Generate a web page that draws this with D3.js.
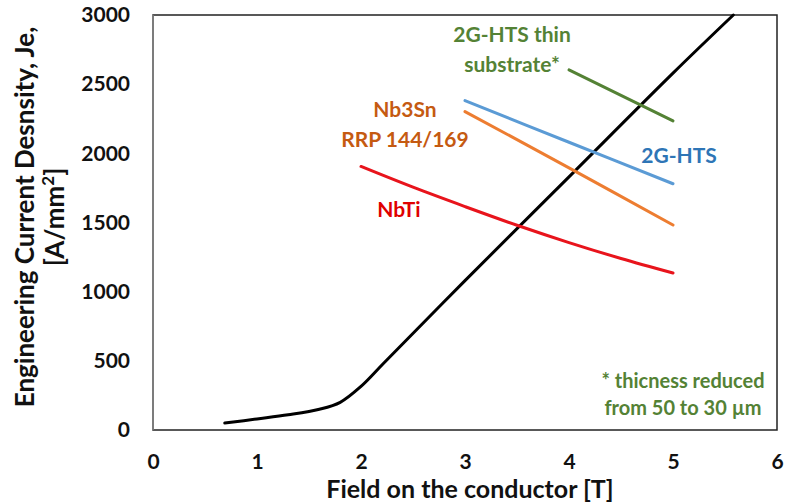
<!DOCTYPE html>
<html>
<head>
<meta charset="utf-8">
<script src="https://cdn.jsdelivr.net/npm/d3@7"></script>
<style>
body { margin: 0; background: #fff; }
text { font-family: Lato, "Open Sans", sans-serif; font-weight: bold; }
</style>
</head>
<body>
<svg width="786" height="503"></svg>
<script>
// values: field [T] and Je [A/mm2]
var blackField = [0.69, 1.0, 1.3, 1.6, 1.8, 2.0, 2.22, 3.0, 4.0, 5.0, 5.58];
var blackJe    = [50, 80, 110, 150, 200, 315, 484, 1080, 1830, 2580, 3000];
var nbtiField  = [2.0, 2.5, 3.0, 3.5, 4.0, 4.5, 5.0];
var nbtiJe     = [1905, 1755, 1615, 1480, 1355, 1240, 1135];
var nb3snField = [3, 4, 5];
var nb3snJe    = [2302, 1895, 1482];
var htsField   = [3, 4, 5];
var htsJe      = [2381, 2080, 1780];
var thinField  = [4, 5];
var thinJe     = [2603, 2234];
var xTicks = [0, 1, 2, 3, 4, 5, 6];
var yTicks = [0, 500, 1000, 1500, 2000, 2500, 3000];

var svg = d3.select("svg");
var plotL = 153, plotR = 777, plotT = 15, plotB = 430;

var x = d3.scaleLinear().domain([0, 6]).range([plotL, plotR]);
var y = d3.scaleLinear().domain([0, 3000]).range([plotB, plotT]);

// frame
svg.append("rect")
  .attr("x", plotL).attr("y", plotT)
  .attr("width", plotR - plotL).attr("height", plotB - plotT)
  .attr("fill", "none").attr("stroke", "#222").attr("stroke-width", 1.5);
svg.append("line")
  .attr("x1", plotL).attr("x2", plotL).attr("y1", plotT).attr("y2", plotB)
  .attr("stroke", "#888").attr("stroke-width", 1.5);

var ax = svg.append("g")
  .attr("transform", "translate(0," + plotB + ")")
  .call(d3.axisBottom(x).tickValues(xTicks).tickSize(0).tickPadding(24).tickFormat(d3.format("d")));
var ay = svg.append("g")
  .attr("transform", "translate(" + plotL + ",0)")
  .call(d3.axisLeft(y).tickValues(yTicks).tickSize(0).tickPadding(23).tickFormat(d3.format("d")));
[ax, ay].forEach(function(a) {
  a.select(".domain").remove();
  a.selectAll("text").attr("font-size", 21).attr("fill", "#111")
    .style("font-family", "Lato, 'Open Sans', sans-serif");
});

var line = d3.line().x(function(d) { return x(d[0]); }).y(function(d) { return y(d[1]); })
  .curve(d3.curveCatmullRom.alpha(0.5));

function pairs(xs, ys) { return xs.map(function(v, i) { return [v, ys[i]]; }); }

var series = [
  {xs: blackField, ys: blackJe, color: "#000000"},
  {xs: nbtiField, ys: nbtiJe, color: "#e8141c"},
  {xs: nb3snField, ys: nb3snJe, color: "#ed7d31"},
  {xs: htsField, ys: htsJe, color: "#5b9bd5"},
  {xs: thinField, ys: thinJe, color: "#548235"}
];

svg.selectAll(".series")
  .data(series)
  .enter()
  .append("path")
  .attr("class", "series")
  .attr("d", function(d) { return line(pairs(d.xs, d.ys)); })
  .attr("fill", "none")
  .attr("stroke", function(d) { return d.color; })
  .attr("stroke-width", 3)
  .attr("stroke-linecap", "round");

// labels in the plot
function label(lines, cx, y0, dy, color, size) {
  var t = svg.append("text").attr("fill", color).attr("font-size", size)
    .attr("text-anchor", "middle");
  lines.forEach(function(s, i) {
    t.append("tspan").attr("x", cx).attr("y", y0 + i * dy).text(s);
  });
}
label(["2G-HTS thin", "substrate*"], 512, 42, 30, "#548235", 21);
label(["Nb3Sn", "RRP 144/169"], 405, 117, 30, "#c55a11", 21);
label(["2G-HTS"], 679, 163, 0, "#2e75b6", 21);
label(["NbTi"], 399, 217, 0, "#e00000", 21);
label(["* thicness reduced", "from 50 to 30 µm"], 683, 388, 27, "#548235", 20);

// axis titles
svg.append("text")
  .attr("x", 470).attr("y", 498)
  .attr("text-anchor", "middle").attr("font-size", 25).attr("fill", "#111")
  .text("Field on the conductor [T]");

var yt = svg.append("text")
  .attr("transform", "translate(0,217) rotate(-90)")
  .attr("text-anchor", "middle").attr("font-size", 26).attr("fill", "#111");
yt.append("tspan").attr("x", 0).attr("y", 34).text("Engineering Current Desnsity, Je,");
var l2 = yt.append("tspan").attr("x", 0).attr("y", 64).text("[A/mm");
l2.append("tspan").attr("dy", -10).attr("font-size", 17).text("2");
l2.append("tspan").attr("dy", 10).text("]");
</script>
</body>
</html>
